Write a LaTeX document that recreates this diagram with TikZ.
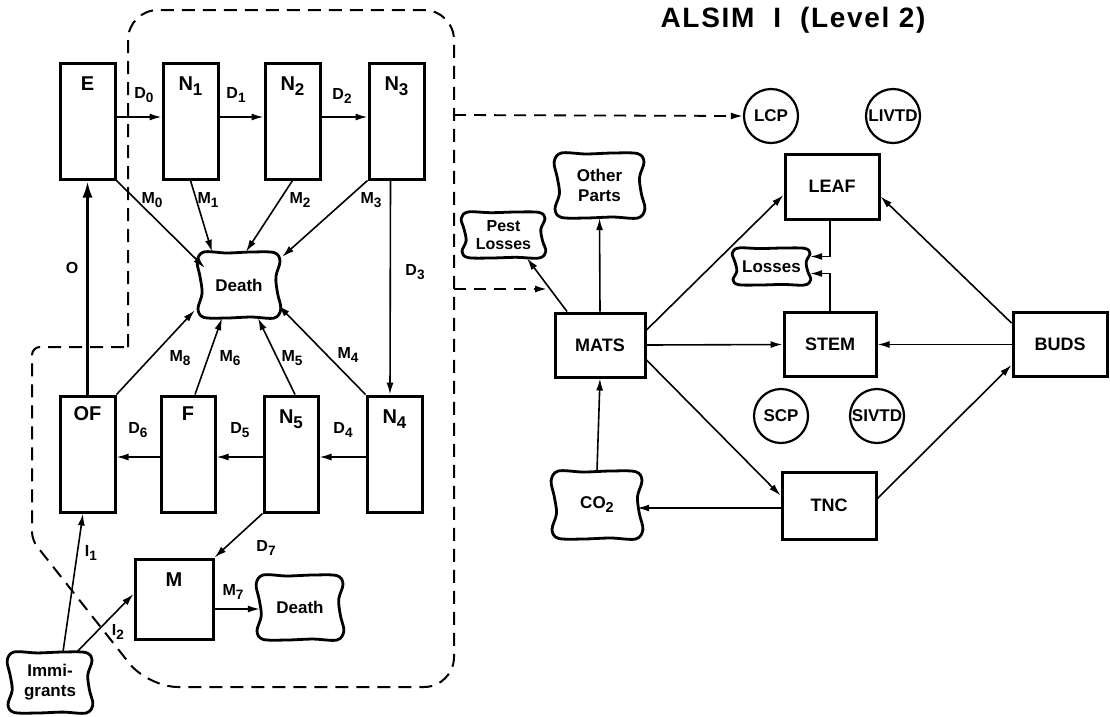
\documentclass[tikz,border=0pt]{standalone}
\usepackage{fontspec}
\setmainfont{Liberation Sans}
\usepackage{graphicx}
\usetikzlibrary{arrows.meta,calc}
\newcommand{\lo}[1]{\raisebox{-0.45ex}{\scalebox{0.85}{#1}}}
\newcommand{\cloudline}[3]{%
  \begin{scope}[shift={(#1.center)}, xscale=#2, yscale=#3]
    \draw[cloudborder] plot[smooth cycle, tension=0.55] coordinates {(-0.86,-1) (-0.3,-0.97) (0.3,-1.0) (0.86,-0.98) (1.0,-0.72) (0.9,-0.25) (0.94,0.25) (1.02,0.72) (0.86,1) (0.3,0.97) (-0.3,1) (-0.86,0.98) (-1.0,0.72) (-0.9,0.25) (-0.95,-0.25) (-1.02,-0.72)};
  \end{scope}}
\tikzset{
  stage/.style={draw, line width=3pt, inner sep=0pt, minimum width=55pt, minimum height=116pt},
  toplbl/.style={anchor=north, yshift=-15pt, inner sep=0pt, font=\fontsize{20}{22}\selectfont\bfseries},
  rbox/.style={draw, line width=3pt, inner sep=0pt, minimum width=92pt, minimum height=64pt, font=\fontsize{18}{20}\selectfont\bfseries},
  pool/.style={circle, draw, line width=2.2pt, minimum size=54pt, inner sep=0pt, font=\fontsize{17}{20}\selectfont\bfseries},
  cloudtext/.style={inner sep=0pt, align=center, font=\fontsize{17}{20}\selectfont\bfseries},
  cloudborder/.style={line width=2.8pt, line join=round},
  lbl/.style={font=\fontsize{16}{18}\selectfont\bfseries, inner sep=0pt},
  conn/.style={line width=1.6pt, -{Latex[length=12pt,width=7pt]}},
  thickconn/.style={line width=3.2pt, -{Latex[length=17pt,width=10pt]}},
  dashconn/.style={line width=1.8pt, dash pattern=on 12pt off 8pt, -{Latex[length=12pt,width=7pt]}},
  border/.style={line width=2pt, dash pattern=on 13pt off 8pt},
}
\begin{document}
\begin{tikzpicture}[x=1pt,y=-1pt]
\useasboundingbox (0,0) rectangle (1110,716);
\fill[white] (0,0) rectangle (1110,716);

% title
\node[font=\fontsize{28}{32}\selectfont\bfseries\addfontfeatures{LetterSpace=6}] (title) at (793,20) {ALSIM\ \ I\ \ (Level 2)};

% dashed boundary
\draw[border] (128,347) [rounded corners=30pt] -- (128,10) -- (454,10) -- (454,687) -- (148,687) [rounded corners=8pt] -- (32,540) -- (32,347) [sharp corners] -- (128,347);

% insect stages
\node[stage, label={[toplbl]north:E}] (E) at (87.5,121) {};
\node[stage, label={[toplbl]north:N\lo{1}}] (N1) at (190.5,121) {};
\node[stage, label={[toplbl]north:N\lo{2}}] (N2) at (292.5,121) {};
\node[stage, label={[toplbl]north:N\lo{3}}] (N3) at (396.5,121) {};
\node[stage, label={[toplbl,yshift=3pt]north:OF}] (OF) at (87.5,454) {};
\node[stage, minimum width=54pt, label={[toplbl,yshift=3pt]north:F}] (F) at (188,454) {};
\node[stage, minimum width=54pt, label={[toplbl]north:N\lo{5}}] (N5) at (291,454) {};
\node[stage, label={[toplbl]north:N\lo{4}}] (N4) at (394.5,454) {};
\node[stage, minimum width=78pt, minimum height=80pt, label={[toplbl]north:M}] (M) at (174,599) {};

% clouds left
\node[cloudtext, minimum width=82pt, minimum height=66pt] (death) at (239,285) {Death};
\cloudline{death}{41}{33}
\node[cloudtext, minimum width=86pt, minimum height=65pt] (death2) at (300,607.5) {Death};
\cloudline{death2}{43}{32.5}
\node[cloudtext, minimum width=84pt, minimum height=61pt] (imm) at (50,682.5) {Immi-\\grants};
\cloudline{imm}{42}{30.5}

% left connectors
\draw[conn] ($(E.east)+(0,-4)$) -- ($(N1.west)+(0,-4)$);
\draw[conn] ($(N1.east)+(0,-4)$) -- ($(N2.west)+(0,-4)$);
\draw[conn] ($(N2.east)+(0,-4)$) -- ($(N3.west)+(0,-4)$);
\draw[conn] ($(N3.south)+(-6,0)$) -- ($(N4.north)+(-4.5,0)$);
\draw[conn] ($(N4.west)+(0,3)$) -- ($(N5.east)+(0,3)$);
\draw[conn] ($(N5.west)+(0,3)$) -- ($(F.east)+(0,3)$);
\draw[conn] ($(F.west)+(0,3)$) -- ($(OF.east)+(0,3)$);
\draw[thickconn] (OF.north) -- (E.south);
\draw[conn] (E.south east) -- ($(death.north west)+(7,16)$);
\draw[conn] (N1.south) -- ($(death.north)+(-27,0)$);
\draw[conn] (N2.south) -- ($(death.north)+(7,0)$);
\draw[conn] (N3.south west) -- ($(death.north east)+(2,5)$);
\draw[conn] (OF.north east) -- ($(death.south west)+(-3,-8)$);
\draw[conn] ($(F.north)+(7,0)$) -- ($(death.south)+(-17,0)$);
\draw[conn] ($(N5.north)+(4,0)$) -- ($(death.south)+(19,0)$);
\draw[conn] (N4.north west) -- ($(death.south east)+(-2,-13)$);
\draw[conn] (N5.south west) -- (M.north east);
\draw[conn] ($(M.east)+(0,10)$) -- ($(death2.west)+(3,1.5)$);
\draw[conn] ($(imm.north)+(13,0)$) -- ($(OF.south)+(-4.5,0)$);
\draw[conn] ($(imm.north)+(27,0)$) -- ($(M.west)+(0,-5)$);

% left labels
\node[lbl] (lD0) at (144,95) {D\lo{0}};
\node[lbl] (lD1) at (236,95) {D\lo{1}};
\node[lbl] (lD2) at (342,96) {D\lo{2}};
\node[lbl] (lM0) at (152,200) {M\lo{0}};
\node[lbl] (lM1) at (208,200) {M\lo{1}};
\node[lbl] (lM2) at (300,200) {M\lo{2}};
\node[lbl] (lM3) at (371,200) {M\lo{3}};
\node[lbl] (lO) at (72,268) {O};
\node[lbl] (lD3) at (415,272) {D\lo{3}};
\node[lbl] (lM8) at (180,358) {M\lo{8}};
\node[lbl] (lM6) at (230,358) {M\lo{6}};
\node[lbl] (lM5) at (292,358) {M\lo{5}};
\node[lbl] (lM4) at (348,355) {M\lo{4}};
\node[lbl] (lD6) at (138,430) {D\lo{6}};
\node[lbl] (lD5) at (240,430) {D\lo{5}};
\node[lbl] (lD4) at (343,430) {D\lo{4}};
\node[lbl] (lD7) at (266,548) {D\lo{7}};
\node[lbl] (lM7) at (233,592) {M\lo{7}};
\node[lbl] (lI1) at (91,553) {I\lo{1}};
\node[lbl] (lI2) at (118,632) {I\lo{2}};

% right part
\node[pool] (LCP) at (771,116) {LCP};
\node[pool] (LIVTD) at (893,116) {LIVTD};
\node[rbox, minimum width=94pt, minimum height=65pt] (LEAF) at (832,186.5) {LEAF};
\node[rbox, minimum width=90pt] (MATS) at (600,345) {MATS};
\node[rbox] (STEM) at (830,344.5) {STEM};
\node[rbox, minimum width=94pt] (BUDS) at (1060,344.5) {BUDS};
\node[pool] (SCP) at (781,416) {SCP};
\node[pool] (SIVTD) at (877,416) {SIVTD};
\node[rbox, minimum width=94pt, minimum height=67pt] (TNC) at (829,505.5) {TNC};

\node[cloudtext, minimum width=89pt, minimum height=65pt] (other) at (599.5,185.5) {Other\\Parts};
\cloudline{other}{44.5}{32.5}
\node[cloudtext, minimum width=83pt, minimum height=46pt, font=\fontsize{16}{18}\selectfont\bfseries] (pest) at (503.5,235) {Pest\\Losses};
\cloudline{pest}{41.5}{23}
\node[cloudtext, minimum width=77pt, minimum height=37pt] (losses) at (771.5,266.5) {Losses};
\cloudline{losses}{38.5}{18.5}
\node[cloudtext, minimum width=90pt, minimum height=68pt] (co2) at (597,505) {CO\lo{2}};
\cloudline{co2}{45}{34}

\coordinate (exitA) at (454,115);
\coordinate (exitB) at (454,289);
\coordinate (pestmid) at (547,289);
\draw[dashconn] (exitA) -- (LCP.west);
\draw[dashconn] (exitB) -- (pestmid);

\draw[conn] ($(MATS.north)+(-33,0)$) -- ($(pest.south)+(23.5,0)$);
\draw[conn] (MATS.north) -- (other.south);
\draw[conn] ($(MATS.east)+(0,-15)$) -- ($(LEAF.west)+(0,8.5)$);
\draw[conn] (MATS.east) -- (STEM.west);
\draw[conn] ($(MATS.east)+(0,15)$) -- ($(TNC.west)+(0,-10)$);
\draw[conn] (BUDS.west) -- (STEM.east);
\draw[conn] ($(BUDS.north west)+(0,12)$) -- ($(LEAF.east)+(0,10)$);
\draw[conn] ($(TNC.east)+(0,-7)$) -- ($(BUDS.south west)+(0,-13)$);
\draw[conn] ($(TNC.west)+(0,2.5)$) -- ($(co2.east)+(-5,3)$);
\draw[conn] (co2.north) -- (MATS.south);
\draw[conn] ($(LEAF.south)+(-2,0)$) |- ($(losses.east)+(0,-10)$);
\draw[conn] (STEM.north) |- ($(losses.east)+(0,7)$);
\end{tikzpicture}
\end{document}
